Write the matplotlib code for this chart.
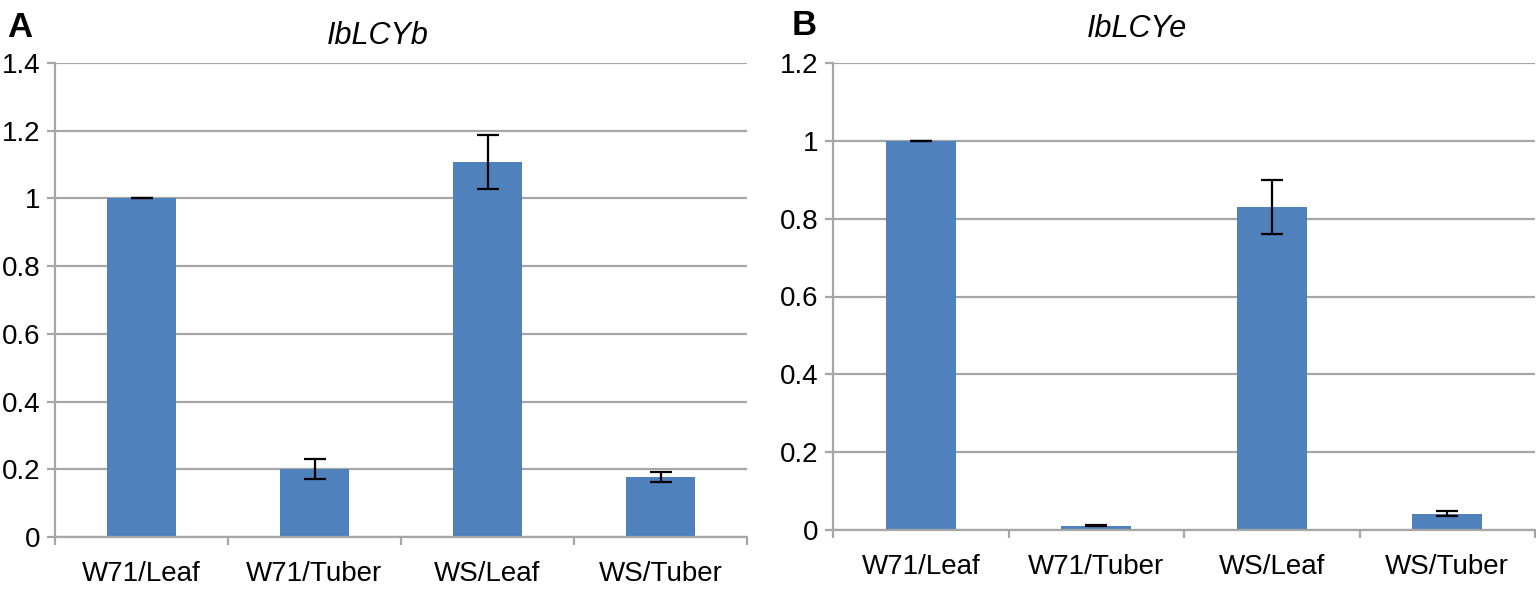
import matplotlib
matplotlib.use("Agg")
import matplotlib.pyplot as plt
import numpy as np

plt.rcParams['font.family'] = ['Liberation Sans', 'DejaVu Sans']

categories = ["W71/Leaf", "W71/Tuber", "WS/Leaf", "WS/Tuber"]
lcyb_vals = [1.0, 0.200, 1.107, 0.177]
lcyb_err = [0.0, 0.030, 0.079, 0.015]
lcye_vals = [1.0, 0.011, 0.830, 0.042]
lcye_err = [0.0, 0.002, 0.070, 0.007]

bar_color = "#4F81BD"
grid_color = "#A6A6A6"

W, H = 1536, 590
fig = plt.figure(figsize=(15.36, 5.9), dpi=100)
axA = fig.add_axes([55/W, 1-537/H, (747-55)/W, (537-63)/H])
axB = fig.add_axes([833/W, 1-530/H, (1535-833)/W, (530-63)/H])

def draw(ax, vals, errs, ymax, title, tx, ty, letter, lx, ly):
    x = np.arange(len(categories))
    ax.set_axisbelow(True)
    ax.yaxis.grid(True, color=grid_color, linewidth=1.6)
    ax.bar(x, vals, width=0.4, color=bar_color, zorder=2)
    ax.errorbar(x, vals, yerr=errs, fmt='none', ecolor='black', elinewidth=1.6,
                capsize=8, capthick=1.6, zorder=3)
    ax.set_xlim(-0.5, len(categories) - 0.5)
    ax.set_ylim(0, ymax)
    yt = np.round(np.arange(0, ymax + 1e-9, 0.2), 1)
    ax.set_yticks(yt)
    ax.set_yticklabels(["0" if v == 0 else ("1" if v == 1 else f"{v:g}") for v in yt])
    ax.set_xticks(x)
    ax.set_xticklabels(categories)
    ax.set_xticks(np.arange(-0.5, len(categories), 1.0), minor=True)
    ax.tick_params(axis='x', which='major', length=0, pad=17, labelsize=20)
    ax.tick_params(axis='x', which='minor', length=6, width=1.6, color=grid_color)
    ax.tick_params(axis='y', length=6, width=1.6, color=grid_color, pad=4.5, labelsize=20)
    for s in ['top', 'right']:
        ax.spines[s].set_visible(False)
    for s in ['left', 'bottom']:
        ax.spines[s].set_color(grid_color)
        ax.spines[s].set_linewidth(1.6)
    fig.text(tx/W, 1-ty/H, title, fontstyle='italic', fontsize=22, ha='center', va='baseline')
    fig.text(lx/W, 1-ly/H, letter, fontsize=25, fontweight='bold', ha='left', va='baseline')

draw(axA, lcyb_vals, lcyb_err, 1.4, "IbLCYb", 378, 44, "A", 7, 37)
draw(axB, lcye_vals, lcye_err, 1.2, "IbLCYe", 1137, 37, "B", 792, 35)

fig.savefig("out.png", dpi=100)
